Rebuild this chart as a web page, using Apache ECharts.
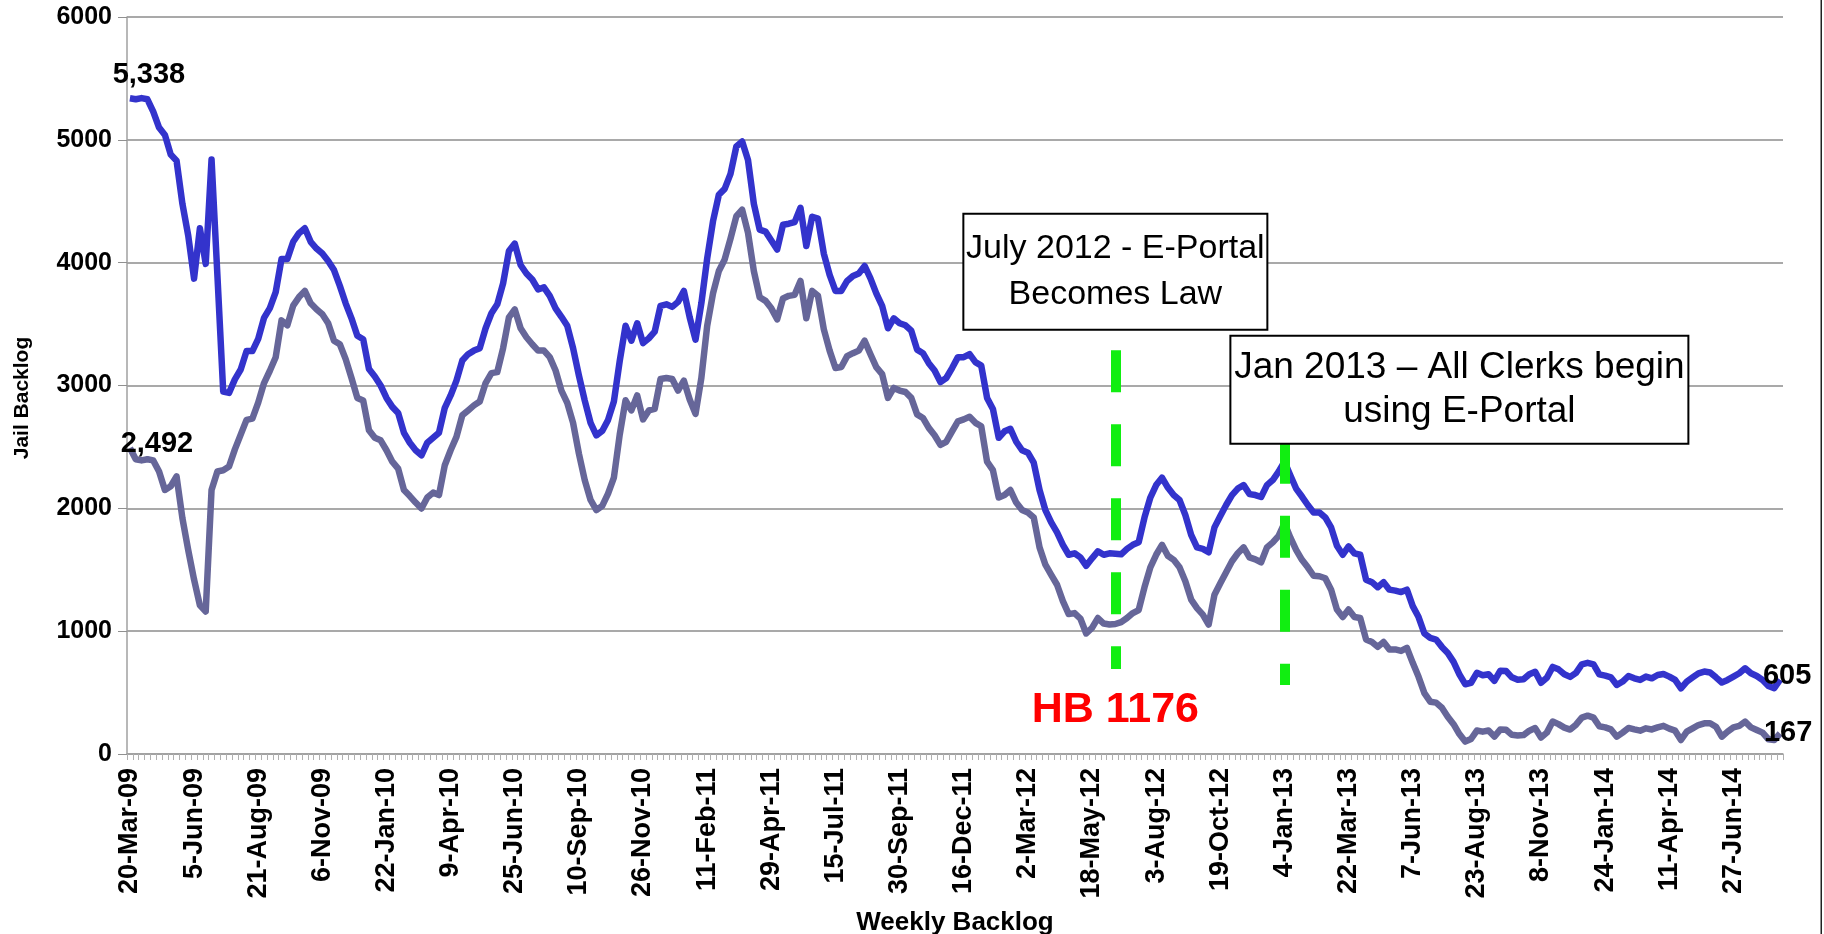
<!DOCTYPE html>
<html>
<head>
<meta charset="utf-8">
<script src="https://cdn.jsdelivr.net/npm/echarts@6/dist/echarts.min.js"></script>
<style>
html,body{margin:0;padding:0;background:#fff;}
#chart{width:1824px;height:934px;}
</style>
</head>
<body>
<div id="chart"></div>
<script>
// Weekly categories start (tick labels derived from week dates)
const startDate = [2009, 2, 20]; // 20-Mar-09
const weekCount = 284;
const monthNames = ['Jan','Feb','Mar','Apr','May','Jun','Jul','Aug','Sep','Oct','Nov','Dec'];

const jailBacklog = [
5338,5330,5340,5330,5230,5100,5040,4880,4830,4480,4220,3870,4280,3990,4840,3900,2950,2940,3050,3130,
3280,3280,3380,3550,3630,3760,4030,4030,4170,4240,4280,4170,4115,4074,4014,3940,3811,3669,3547,3405,
3377,3134,3073,3000,2899,2826,2777,2615,2534,2473,2432,2534,2574,2615,2818,2919,3040,3203,3255,3284,
3304,3466,3588,3661,3831,4095,4155,3981,3912,3863,3782,3799,3730,3628,3559,3486,3304,3081,2878,2696,
2594,2630,2720,2870,3200,3486,3365,3507,3345,3385,3438,3649,3661,3640,3681,3770,3555,3373,3669,4034,
4338,4553,4601,4723,4946,4986,4836,4480,4269,4253,4180,4107,4309,4317,4330,4447,4135,4374,4358,4074,
3900,3770,3770,3851,3892,3912,3973,3872,3750,3649,3466,3547,3507,3490,3446,3292,3263,3182,3122,3028,
3061,3142,3231,3231,3255,3190,3162,2899,2809,2574,2627,2647,2542,2473,2453,2372,2149,1986,1885,1804,
1703,1622,1634,1601,1532,1593,1650,1622,1634,1630,1626,1670,1703,1723,1926,2088,2189,2250,2169,2108,
2068,1946,1784,1682,1670,1642,1845,1938,2027,2108,2161,2189,2116,2108,2092,2189,2230,2299,2380,2270,
2161,2096,2027,1966,1966,1926,1845,1695,1622,1690,1634,1622,1419,1399,1358,1399,1338,1330,1318,1338,
1204,1115,981,945,932,872,823,750,649,568,580,661,641,649,596,677,675,624,604,608,
649,669,580,620,709,689,649,628,661,730,742,730,648,638,624,562,590,635,616,603,
630,616,643,651,630,603,535,590,624,657,671,663,624,582,603,630,657,698,657,635,
603,554,535,605
];

const otherBacklog = [
2492,2400,2390,2400,2390,2300,2150,2180,2260,1920,1660,1420,1210,1160,2150,2300,2310,2340,2480,2600,
2720,2730,2860,3020,3120,3230,3530,3490,3650,3720,3770,3669,3620,3580,3507,3365,3336,3215,3061,2899,
2878,2635,2574,2554,2473,2380,2323,2149,2100,2047,1999,2088,2128,2108,2351,2473,2582,2757,2797,2838,
2870,3020,3101,3109,3304,3555,3620,3466,3393,3336,3284,3284,3231,3122,2959,2858,2696,2445,2230,2068,
1986,2020,2120,2250,2600,2880,2797,2919,2724,2797,2809,3053,3061,3053,2959,3040,2886,2769,3061,3486,
3750,3932,4026,4196,4378,4431,4244,3932,3718,3689,3628,3539,3709,3730,3738,3851,3547,3770,3730,3458,
3284,3142,3150,3239,3263,3284,3365,3255,3150,3093,2899,2980,2959,2947,2899,2765,2736,2655,2595,2517,
2542,2627,2708,2724,2745,2696,2668,2380,2311,2088,2108,2149,2047,1986,1966,1926,1682,1541,1459,1378,
1245,1139,1147,1103,981,1026,1107,1062,1054,1058,1074,1107,1147,1172,1358,1520,1622,1703,1614,1581,
1520,1407,1257,1188,1135,1054,1297,1390,1480,1569,1634,1682,1601,1585,1561,1682,1723,1776,1880,1763,
1662,1581,1520,1451,1447,1431,1338,1176,1115,1176,1115,1107,932,912,872,912,851,851,839,864,
742,628,495,426,418,377,304,243,162,101,122,191,182,191,142,199,197,156,150,154,
190,211,134,174,264,243,215,199,239,296,312,296,226,217,200,141,174,212,200,190,
209,200,217,229,206,190,114,182,209,236,250,250,222,141,182,217,229,263,217,195,
174,120,114,167
];

const yTicks = [0, 1000, 2000, 3000, 4000, 5000, 6000];

// annotations (category index, value)
const hbLine = { index: 169, from: 3287, to: 692 };
const janLine = { index: 198, from: 3144, to: 562 };
const hbLabel = { index: 169, value: 353, text: 'HB 1176' };
const box1 = { index: 169, value: 3926, lines: ['July 2012 - E-Portal', 'Becomes Law'] };
const box2 = { index: 228, value: 2965, lines: ['Jan 2013 \u2013 All Clerks begin', 'using E-Portal'] };

const categories = [];
for (let i = 0; i < weekCount; i++) {
  const d = new Date(Date.UTC(startDate[0], startDate[1], startDate[2] + 7 * i));
  categories.push(d.getUTCDate() + '-' + monthNames[d.getUTCMonth()] + '-' + String(d.getUTCFullYear()).slice(2));
}

const FONT = '"Liberation Sans", Arial, sans-serif';
function fmt(v) { return v.toLocaleString('en-US'); }

function endLabels(arr, firstOffset, lastOffset) {
  const last = arr.length - 1;
  const base = {
    show: true, position: 'inside',
    fontFamily: FONT, fontWeight: 'bold', fontSize: 29, color: '#000'
  };
  return {
    silent: true,
    symbol: 'circle',
    symbolSize: 1,
    itemStyle: { color: 'rgba(0,0,0,0)' },
    data: [
      { coord: [categories[0], arr[0]], label: Object.assign({}, base, { offset: firstOffset, formatter: fmt(arr[0]) }) },
      { coord: [categories[last], arr[last]], label: Object.assign({}, base, { offset: lastOffset, formatter: fmt(arr[last]) }) }
    ]
  };
}

const chart = echarts.init(document.getElementById('chart'), null, { renderer: 'canvas' });

chart.setOption({
  animation: false,
  backgroundColor: '#fff',
  grid: { left: 127, right: 41, top: 17, bottom: 180, containLabel: false, outerBoundsMode: 'none' },
  graphic: [
    { type: 'rect', right: 2, top: 0, shape: { width: 1.5, height: 934 }, style: { fill: '#222' }, silent: true }
  ],
  xAxis: {
    type: 'category',
    data: categories,
    boundaryGap: true,
    name: 'Weekly Backlog',
    nameLocation: 'middle',
    nameGap: 156,
    nameTextStyle: { fontFamily: FONT, fontWeight: 'bold', fontSize: 26, color: '#000' },
    axisLine: { lineStyle: { color: '#a0a0a0', width: 1.5 } },
    axisTick: { show: true, interval: 0, length: 6, lineStyle: { color: '#b0b0b0', width: 1 } },
    axisLabel: {
      interval: 10, rotate: 90, margin: 14,
      fontFamily: FONT, fontWeight: 'bold', fontSize: 27, color: '#000'
    },
    splitLine: { show: false }
  },
  yAxis: {
    type: 'value',
    min: yTicks[0], max: yTicks[yTicks.length - 1], interval: 1000,
    name: 'Jail Backlog',
    nameLocation: 'middle',
    nameGap: 94,
    nameRotate: 90,
    nameTextStyle: { fontFamily: FONT, fontWeight: 'bold', fontSize: 21, color: '#000', padding: [0, 25, 0, 0] },
    axisLine: { show: true, lineStyle: { color: '#a0a0a0', width: 1.5 } },
    axisTick: { show: true, length: 9, lineStyle: { color: '#909090' } },
    axisLabel: { margin: 15, formatter: v => String(v), fontFamily: FONT, fontWeight: 'bold', fontSize: 25, color: '#000' },
    splitLine: { show: true, lineStyle: { color: '#8c8c8c', width: 1.5 } }
  },
  series: [
    {
      name: 'Jail Backlog',
      type: 'line',
      data: jailBacklog,
      showSymbol: false,
      symbol: 'none',
      lineStyle: { color: '#3333CC', width: 6.5, join: 'round' },
      itemStyle: { color: '#3333CC' },
      markPoint: endLabels(jailBacklog, [19, -23], [7, -4]),
      z: 4
    },
    {
      name: 'Other',
      type: 'line',
      data: otherBacklog,
      showSymbol: false,
      symbol: 'none',
      lineStyle: { color: '#666699', width: 6.5, join: 'round' },
      itemStyle: { color: '#666699' },
      markPoint: endLabels(otherBacklog, [27, -4], [8, 0]),
      z: 3
    },
    {
      name: 'annotations-lines',
      type: 'line',
      data: [],
      silent: true,
      z: 5,
      markLine: {
        silent: true,
        symbol: ['none', 'none'],
        label: { show: false },
        lineStyle: { color: '#11ee11', width: 10, type: [42, 32], cap: 'butt' },
        data: [
          [{ coord: [categories[hbLine.index], hbLine.from] }, { coord: [categories[hbLine.index], hbLine.to] }],
          [{ coord: [categories[janLine.index], janLine.from] }, { coord: [categories[janLine.index], janLine.to] }]
        ]
      }
    },
    {
      name: 'annotations-text',
      type: 'line',
      data: [],
      silent: true,
      z: 10,
      markPoint: {
        silent: true,
        symbol: 'circle',
        symbolSize: 1,
        itemStyle: { color: 'rgba(0,0,0,0)' },
        data: [
          {
            coord: [categories[hbLabel.index], hbLabel.value],
            label: { show: true, position: 'inside', formatter: hbLabel.text,
              fontFamily: FONT, fontWeight: 'bold', fontSize: 43, color: '#ff0000' }
          },
          {
            coord: [categories[box1.index], box1.value],
            label: { show: true, position: 'inside', formatter: box1.lines.join('\n'),
              fontFamily: FONT, fontSize: 34, lineHeight: 46, color: '#000', align: 'center',
              backgroundColor: '#fff', borderColor: '#000', borderWidth: 2,
              width: 298, height: 110, padding: [2, 2] }
          },
          {
            coord: [categories[box2.index], box2.value],
            label: { show: true, position: 'inside', formatter: box2.lines.join('\n'),
              fontFamily: FONT, fontSize: 37, lineHeight: 44, color: '#000', align: 'center',
              backgroundColor: '#fff', borderColor: '#000', borderWidth: 2,
              width: 452, height: 102, padding: [2, 2] }
          }
        ]
      }
    }
  ]
});
</script>
</body>
</html>
